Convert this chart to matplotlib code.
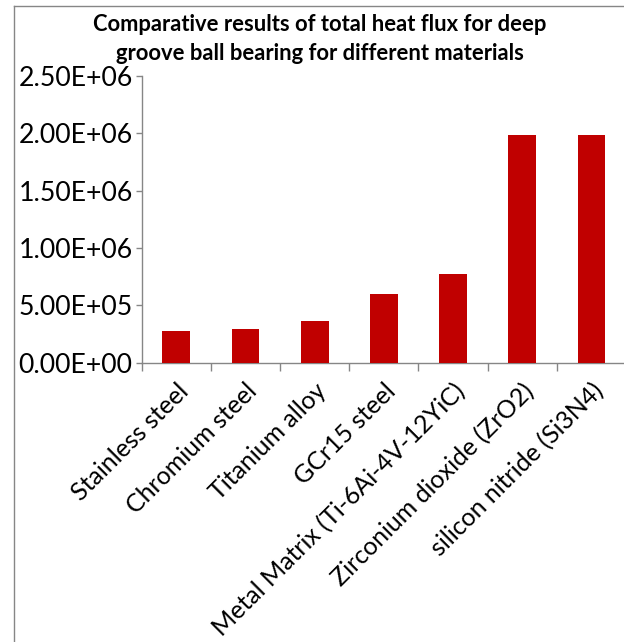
import matplotlib.pyplot as plt
from matplotlib.lines import Line2D
from matplotlib.ticker import FuncFormatter, MultipleLocator

materials = [
    "Stainless steel",
    "Chromium steel",
    "Titanium alloy",
    "GCr15 steel",
    "Metal Matrix (Ti-6Ai-4V-12YiC)",
    "Zirconium dioxide (ZrO2)",
    "silicon nitride (Si3N4)",
]
heat_flux = [2.76e5, 2.92e5, 3.61e5, 5.96e5, 7.71e5, 1.985e6, 1.985e6]

title = "Comparative results of total heat flux for deep\ngroove ball bearing for different materials"

plt.rcParams["font.family"] = ["Lato", "DejaVu Sans"]

W, H = 624, 642
fig = plt.figure(figsize=(W / 100, H / 100), dpi=100)

# axes box in pixel terms: left 141.7, right ~626, bottom 362.7, top 76
ax = fig.add_axes([141.7 / W, 1 - 362.7 / H, (626 - 141.7) / W, (362.7 - 76) / H])

x = range(len(materials))
ax.bar(x, heat_flux, width=0.4, color="#C00000", zorder=3)

ax.set_xlim(-0.5, len(materials) - 0.5)
ax.set_ylim(0, 2.5e6)
ax.yaxis.set_major_locator(MultipleLocator(5e5))
ax.yaxis.set_major_formatter(FuncFormatter(lambda v, pos: f"{v:.2E}"))

ax.set_xticks(list(x))
ax.set_xticklabels(materials, rotation=45, ha="right", rotation_mode="anchor",
                   fontsize=18)
ax.set_xticks([i - 0.5 for i in range(len(materials) + 1)], minor=True)
ax.tick_params(axis="x", which="major", length=0, pad=12)
ax.tick_params(axis="x", which="minor", length=6, color="#868686", width=1)
ax.tick_params(axis="y", length=4.5, color="#868686", width=1, pad=2,
               labelsize=19.2)

for side in ["top", "right"]:
    ax.spines[side].set_visible(False)
for side in ["left", "bottom"]:
    ax.spines[side].set_color("#868686")
    ax.spines[side].set_linewidth(1)

fig.text(320 / W, 1 - 39 / H, title, ha="center", va="center",
         fontsize=15.8, fontweight="bold", linespacing=1.45)

# outer chart frame (left and top edges visible)
fig.add_artist(Line2D([13.5 / W, 13.5 / W], [0, 1 - 5.5 / H], color="#868686",
                      linewidth=1, transform=fig.transFigure))
fig.add_artist(Line2D([13.5 / W, 1], [1 - 5.5 / H, 1 - 5.5 / H], color="#868686",
                      linewidth=1, transform=fig.transFigure))

fig.savefig("out.png", dpi=100)
